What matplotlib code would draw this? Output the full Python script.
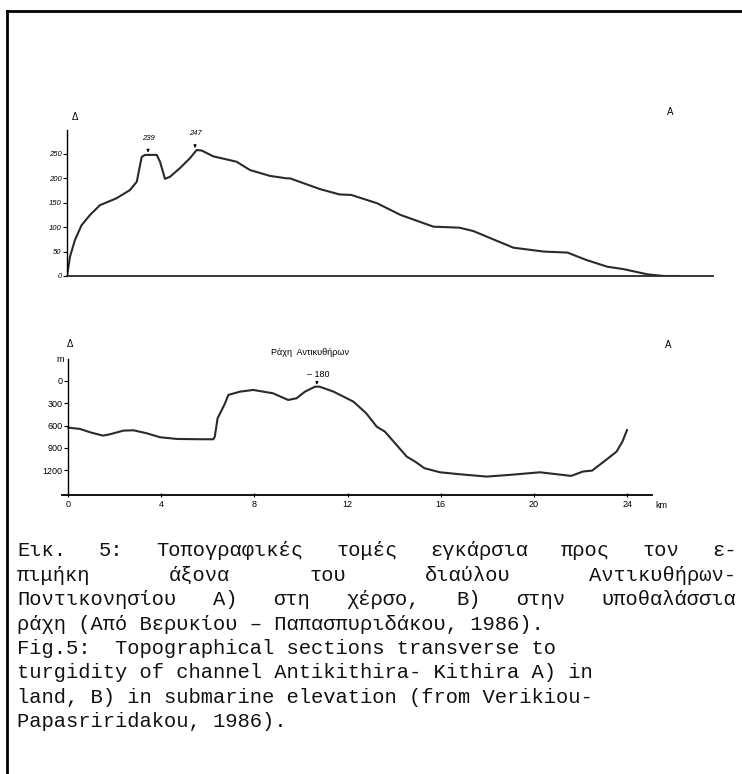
import matplotlib
matplotlib.use("Agg")
import matplotlib.pyplot as plt

# --- data ---
# A) land section: distance (km, same scale as B) and elevation (m)
land_km = [0.0, 0.13, 0.34, 0.62, 0.98, 1.40, 2.10, 2.68, 2.97, 3.18, 3.32, 3.82,
           3.96, 4.17, 4.38, 4.81, 5.23, 5.52, 5.73, 6.23, 7.22, 7.79, 8.64, 9.35,
           9.49, 10.77, 11.60, 12.10, 13.20, 14.20, 15.60, 16.70, 17.30, 19.00,
           20.30, 21.30, 22.10, 23.00, 23.70, 24.70, 25.40, 26.10]
land_elev = [0, 40, 74, 104, 125, 145, 159, 176, 193, 244, 248, 248,
             234, 199, 203, 221, 241, 258, 257, 245, 234, 217, 205, 200,
             200, 178, 167, 166, 149, 125, 101, 99, 92, 58,
             50, 48, 33, 19, 14, 3.5, 0, 0]
land_yticks = [0, 50, 100, 150, 200, 250]

# B) submarine ridge section: distance (km) and depth (m)
sub_km = [0.0, 0.51, 1.0, 1.5, 1.8, 2.37, 2.8, 3.38, 3.95, 4.67, 5.67, 6.24,
          6.30, 6.42, 6.60, 6.74, 6.88, 7.38, 7.95, 8.8, 9.45, 9.81, 10.17,
          10.6, 10.8, 11.4, 12.25, 12.8, 13.25, 13.6, 14.1, 14.54, 14.9, 15.3,
          15.97, 16.8, 17.97, 18.97, 20.26, 20.97, 21.6, 22.1, 22.5, 23.1,
          23.55, 23.8, 24.0]
sub_depth = [628, 646, 696, 736, 718, 669, 664, 705, 758, 781, 785, 785,
             750, 502, 390, 300, 188, 144, 121, 166, 256, 233, 144,
             77, 77, 144, 278, 435, 615, 682, 861, 1019, 1086, 1175,
             1230, 1256, 1288, 1265, 1230, 1256, 1279, 1220, 1207, 1063,
             951, 816, 659]
sub_xticks = [0, 4, 8, 12, 16, 20, 24]
sub_yticks = [0, 300, 600, 900, 1200]

caption_gr = [
    "Εικ. 5: Τοπογραφικές τομές εγκάρσια προς τον ε-",
    "πιμήκη άξονα του διαύλου Αντικυθήρων-",
    "Ποντικονησίου Α) στη χέρσο, Β) στην υποθαλάσσια",
    "ράχη (Από Βερυκίου – Παπασπυριδάκου, 1986).",
]
caption_en = [
    "Fig.5:  Topographical sections transverse to",
    "turgidity of channel Antikithira- Kithira A) in",
    "land, B) in submarine elevation (from Verikiou-",
    "Papasriridakou, 1986).",
]

W, H = 742, 774
fig = plt.figure(figsize=(W / 100, H / 100), dpi=100)
plt.rcParams['font.family'] = ['Liberation Sans', 'DejaVu Sans']


def box(l, t, r, b):
    return [l / W, 1 - b / H, (r - l) / W, (b - t) / H]


def ftext(x, y, s, **kw):
    fig.text(x / W, 1 - y / H, s, **kw)


# outer frame (left and top only visible)
fig.add_artist(plt.Line2D([7 / W, 7 / W], [0, 1 - 11 / H], color='black', lw=2))
fig.add_artist(plt.Line2D([7 / W, 1], [1 - 11 / H, 1 - 11 / H], color='black', lw=2))

# --- A) land section ---
ax1 = fig.add_axes(box(67, 130, 713, 276))
ax1.plot(land_km, land_elev, color='#2a2a2a', lw=1.5,
         solid_joinstyle='round', solid_capstyle='round')
ax1.set_xlim(0, 27.5)
ax1.set_ylim(0, 299)
ax1.spines[['top', 'right']].set_visible(False)
ax1.spines['bottom'].set_linewidth(1.3)
ax1.spines['bottom'].set_color('#2a2a2a')
ax1.spines['left'].set_linewidth(1.0)
ax1.set_xticks([])
ax1.set_yticks(land_yticks)
ax1.set_yticklabels([str(v) for v in land_yticks], fontsize=5.5, style='italic')
ax1.tick_params(axis='y', length=3, width=0.8, pad=1)
ax1.patch.set_alpha(0)

for val, xk, ytxt in [(239, 3.45, 139), (247, 5.45, 134)]:
    ax1.annotate(str(val), xy=(xk, 250 if val == 239 else 259), xycoords='data',
                 xytext=(xk, (276 - ytxt) / 0.488), textcoords='data',
                 ha='center', va='center', fontsize=5.5, style='italic',
                 arrowprops=dict(arrowstyle='-|>', lw=0.7, color='black',
                                 mutation_scale=4, shrinkA=3, shrinkB=1))

ftext(75, 117, "Δ", fontsize=7, ha='center', va='center')
ftext(670, 112, "A", fontsize=7, ha='center', va='center')

# --- B) submarine ridge section ---
ax2 = fig.add_axes(box(62, 359, 652, 495))
ax2.plot(sub_km, sub_depth, color='#2a2a2a', lw=1.5,
         solid_joinstyle='round', solid_capstyle='round')
ax2.set_xlim(-0.26, 25.07)
ax2.set_ylim(1536, -296)
ax2.spines[['top', 'right']].set_visible(False)
ax2.spines['left'].set_position(('data', 0))
ax2.spines['bottom'].set_linewidth(1.3)
ax2.spines['left'].set_linewidth(1.0)
ax2.set_xticks(sub_xticks)
ax2.set_xticklabels([str(v) for v in sub_xticks], fontsize=6.5)
ax2.set_yticks(sub_yticks)
ax2.set_yticklabels([str(v) for v in sub_yticks], fontsize=6.5)
ax2.tick_params(axis='x', length=3, width=0.8, direction='inout', pad=2)
ax2.tick_params(axis='y', length=3, width=0.8, pad=1)
ax2.patch.set_alpha(0)

ax2.annotate("– 180", xy=(10.65, 70), xycoords='data',
             xytext=(10.75, -85), textcoords='data',
             ha='center', va='center', fontsize=6.5,
             arrowprops=dict(arrowstyle='-|>', lw=0.7, color='black',
                             mutation_scale=4, shrinkA=4, shrinkB=1))
ftext(310, 352, "Ράχη  Αντικυθήρων", fontsize=6.5, ha='center', va='center')
ftext(655, 506, "km", fontsize=6.5, ha='left', va='center')
ftext(70, 344, "Δ", fontsize=7, ha='center', va='center')
ftext(60, 360, "m", fontsize=6.5, ha='center', va='center')
ftext(668, 345, "A", fontsize=7, ha='center', va='center')

# --- caption (monospace, Greek lines justified) ---
fs = 14.8
cw = 0.6 * fs * 100 / 72  # char advance in px for a monospace face
x0, x1 = 17, 737
y = 551
step = 24.4


def justified(line, ypos):
    words = line.split()
    nch = sum(len(w) for w in words)
    gap = (x1 - x0 - nch * cw) / (len(words) - 1)
    x = x0
    for w in words:
        ftext(x, ypos, w, fontsize=fs, family='Liberation Mono', ha='left',
              va='center', color='#111111')
        x += len(w) * cw + gap


for i, line in enumerate(caption_gr):
    if i < 3:
        justified(line, y)
    else:
        ftext(x0, y, line, fontsize=fs, family='Liberation Mono', ha='left',
              va='center', color='#111111')
    y += step

for line in caption_en:
    ftext(x0, y, line, fontsize=fs, family='Liberation Mono', ha='left',
          va='center', color='#111111')
    y += step

fig.savefig("out.png", dpi=100)
